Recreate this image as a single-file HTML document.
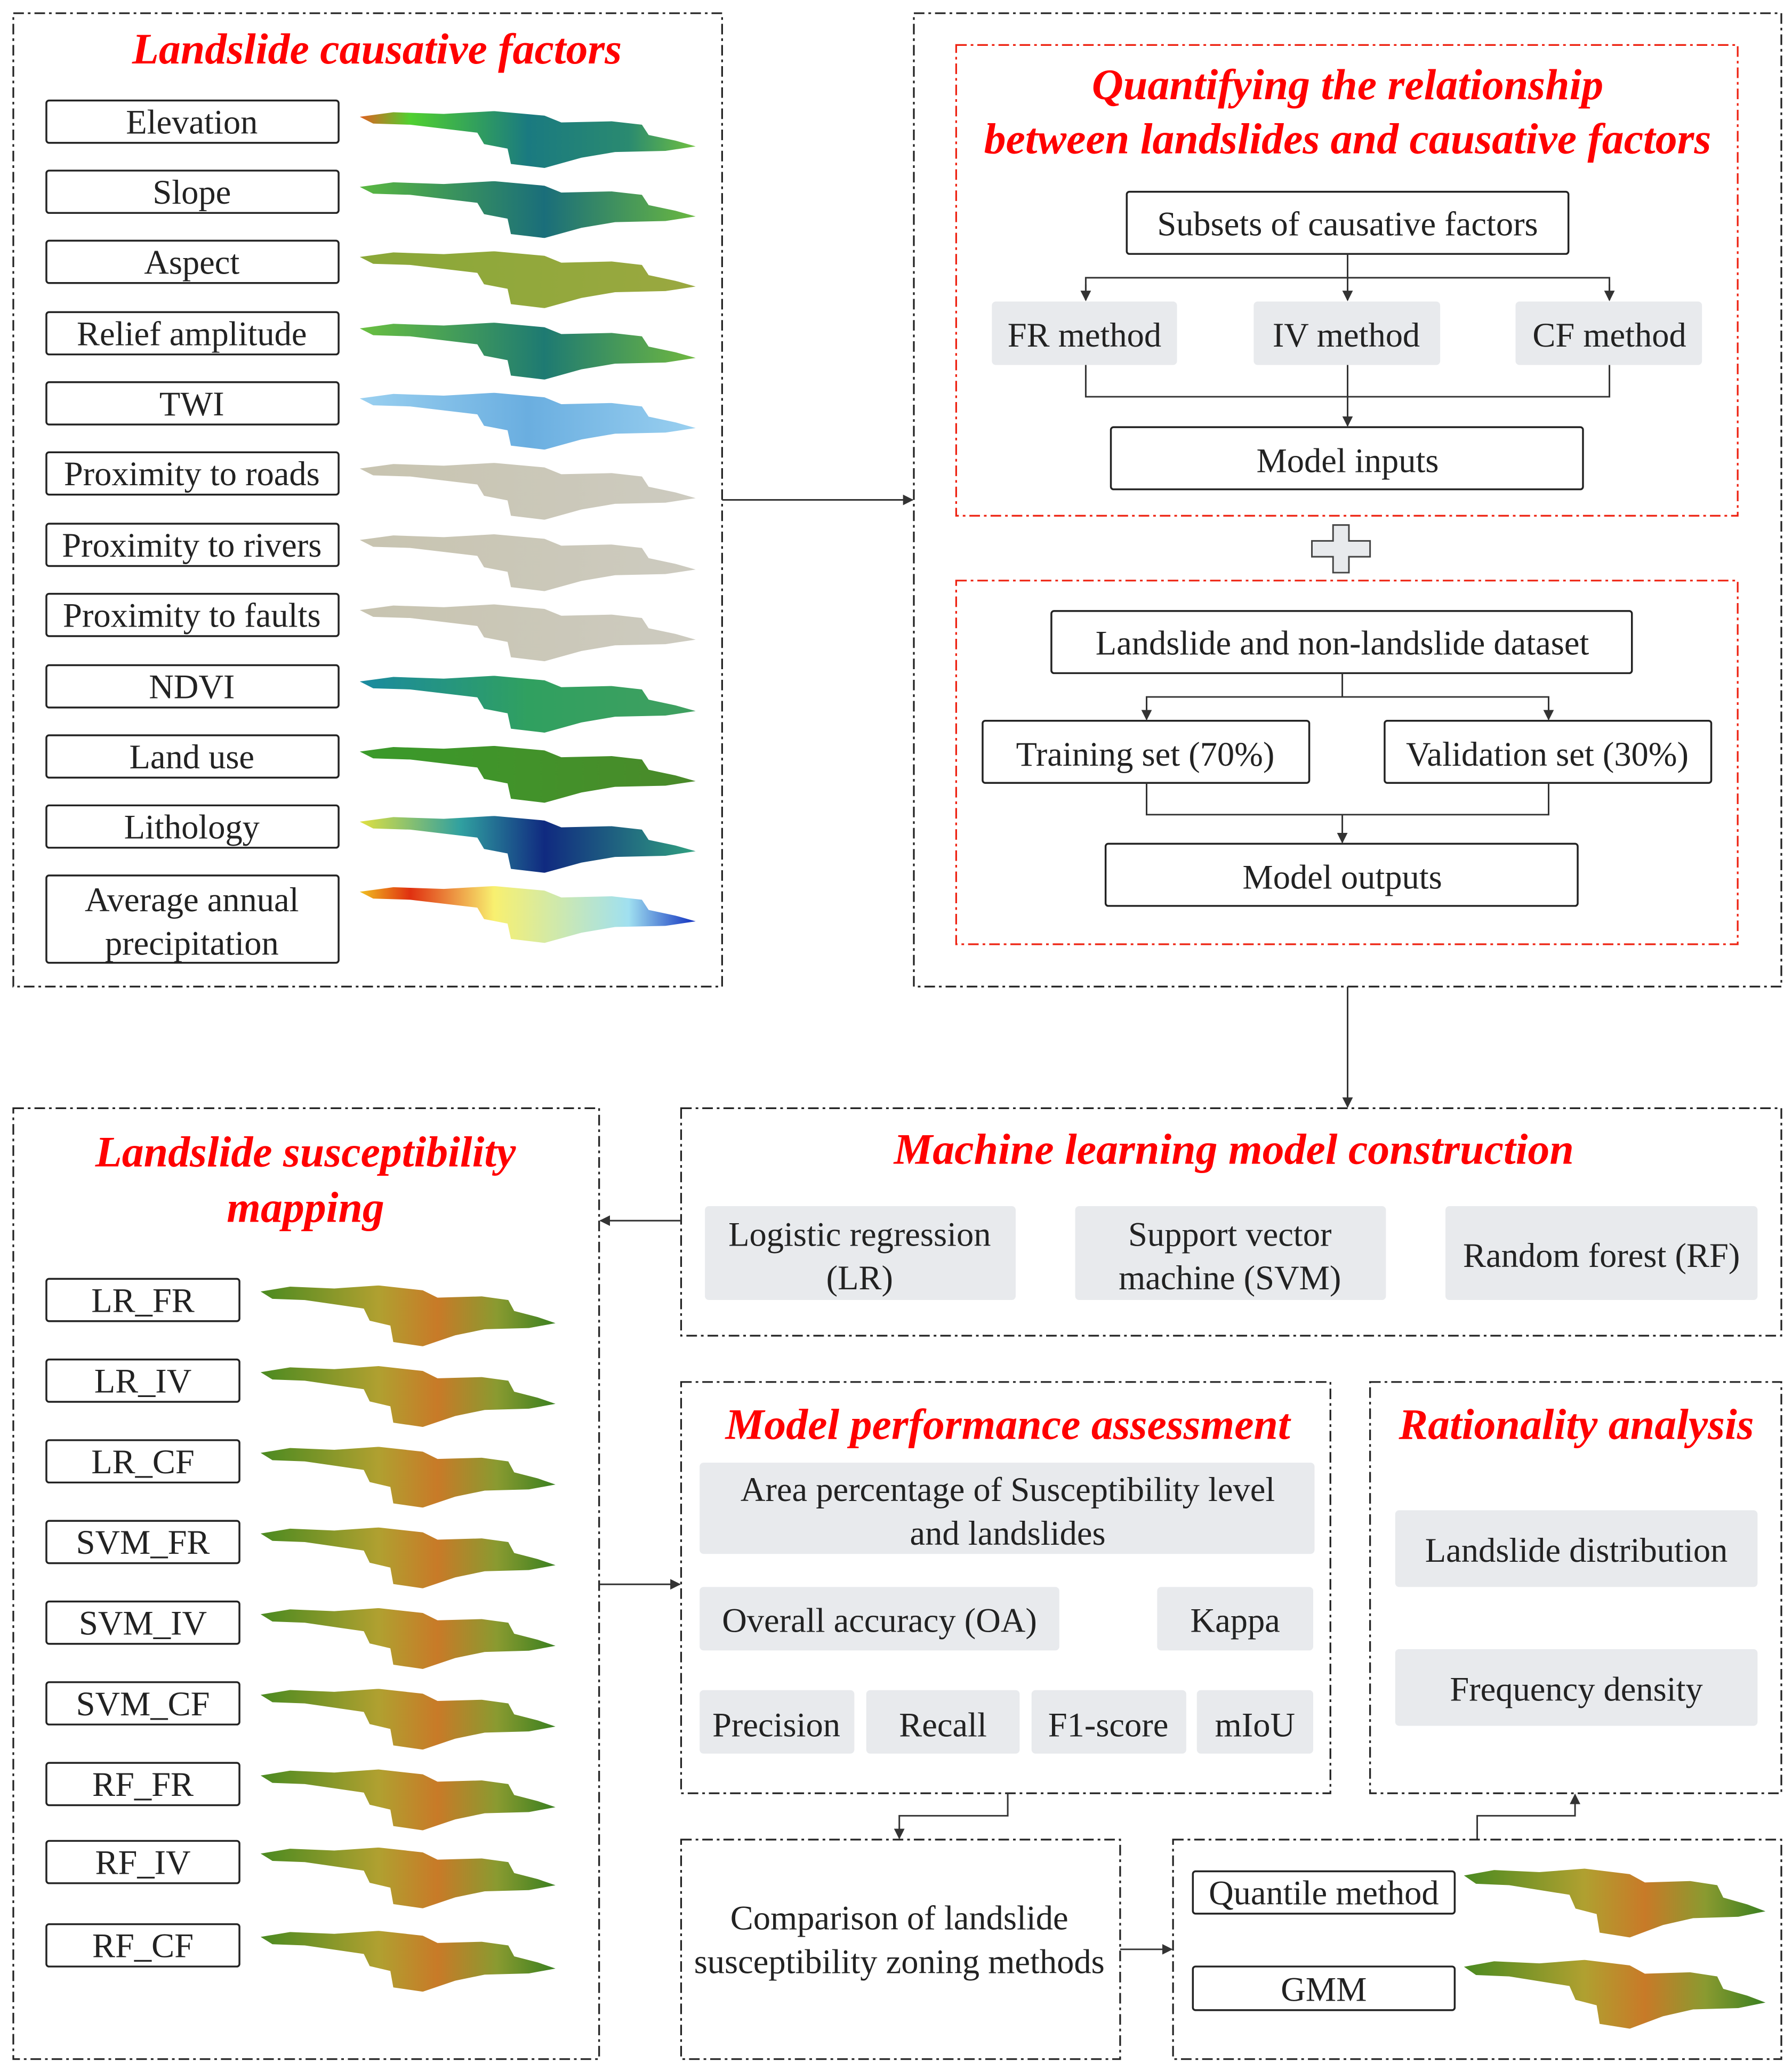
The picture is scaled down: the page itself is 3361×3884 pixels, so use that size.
<!DOCTYPE html>
<html><head><meta charset="utf-8">
<style>
html,body{margin:0;padding:0;background:#fff;}
svg{display:block;}
text{font-family:"Liberation Serif",serif;fill:#222;}
.t{font-size:26px;text-anchor:middle;}
.h{font-size:33px;font-weight:bold;font-style:italic;fill:#f00;text-anchor:middle;}
.fr{fill:none;stroke:#222;stroke-width:1.3;stroke-dasharray:8,3,2,3;}
.rf{fill:none;stroke:#e21;stroke-width:1.3;stroke-dasharray:8,3,2,3;}
.bx{fill:#fff;stroke:#222;stroke-width:1.4;}
.gb{fill:#e8eaed;}
.ln{fill:none;stroke:#333;stroke-width:1.2;}
</style></head>
<body>
<svg width="3361" height="3884" viewBox="0 0 1355 1566" xmlns="http://www.w3.org/2000/svg">
<defs>
<marker id="a" viewBox="0 0 10 10" refX="9" refY="5" markerWidth="8" markerHeight="8" orient="auto" markerUnits="userSpaceOnUse"><path d="M0,0L10,5L0,10z" fill="#333"/></marker>
<symbol id="m" viewBox="0 0 100 100" preserveAspectRatio="none"><path d="M0,10 L10,2 L25,5 L40,0 L55,8 L60,20 L75,18 L84,24 L86,42 L94,52 L100,62 L91,70 L76,72 L66,82 L55,100 L45,93 L44,66 L37,58 L35,38 L15,24 L4,22 Z"/></symbol>
<linearGradient id="g1"><stop offset="0" stop-color="#e06020"/><stop offset=".15" stop-color="#50d030"/><stop offset=".5" stop-color="#1a7a80"/><stop offset=".8" stop-color="#2a8a70"/><stop offset="1" stop-color="#70c040"/></linearGradient>
<linearGradient id="g2"><stop offset="0" stop-color="#5ab840"/><stop offset=".55" stop-color="#1a6e7a"/><stop offset="1" stop-color="#6ab840"/></linearGradient>
<linearGradient id="g3"><stop offset="0" stop-color="#8aa838"/><stop offset="1" stop-color="#9aa840"/></linearGradient>
<linearGradient id="g4"><stop offset="0" stop-color="#6ac040"/><stop offset=".55" stop-color="#1e7a72"/><stop offset="1" stop-color="#70b840"/></linearGradient>
<linearGradient id="g5"><stop offset="0" stop-color="#9ad0f0"/><stop offset=".5" stop-color="#6aaee0"/><stop offset="1" stop-color="#9ad0f0"/></linearGradient>
<linearGradient id="g6"><stop offset="0" stop-color="#c8c4b0"/><stop offset="1" stop-color="#cdcbc0"/></linearGradient>
<linearGradient id="g7"><stop offset="0" stop-color="#1a8aa0"/><stop offset=".5" stop-color="#30a060"/><stop offset="1" stop-color="#40a060"/></linearGradient>
<linearGradient id="g8"><stop offset="0" stop-color="#3a9a2a"/><stop offset="1" stop-color="#4a8a2a"/></linearGradient>
<linearGradient id="g9"><stop offset="0" stop-color="#e0e040"/><stop offset=".3" stop-color="#30a0a0"/><stop offset=".55" stop-color="#102a80"/><stop offset="1" stop-color="#30a080"/></linearGradient>
<linearGradient id="g10"><stop offset="0" stop-color="#f0c020"/><stop offset=".15" stop-color="#e03010"/><stop offset=".4" stop-color="#f8f070"/><stop offset=".8" stop-color="#a0e0f0"/><stop offset="1" stop-color="#1030c0"/></linearGradient>
<linearGradient id="gs"><stop offset="0" stop-color="#4a8a20"/><stop offset=".4" stop-color="#b0a030"/><stop offset=".6" stop-color="#c87a28"/><stop offset=".8" stop-color="#8a9a30"/><stop offset="1" stop-color="#3a8020"/></linearGradient>
</defs>

<rect class="fr" x="10" y="10" width="536" height="736"/>
<text class="h" x="285" y="48">Landslide causative factors</text>
<g>
<rect class="bx" x="35" y="76" width="221" height="32" rx="2"/><text class="t" x="145" y="101">Elevation</text>
<rect class="bx" x="35" y="129" width="221" height="32" rx="2"/><text class="t" x="145" y="154">Slope</text>
<rect class="bx" x="35" y="182" width="221" height="32" rx="2"/><text class="t" x="145" y="207">Aspect</text>
<rect class="bx" x="35" y="236" width="221" height="32" rx="2"/><text class="t" x="145" y="261">Relief amplitude</text>
<rect class="bx" x="35" y="289" width="221" height="32" rx="2"/><text class="t" x="145" y="314">TWI</text>
<rect class="bx" x="35" y="342" width="221" height="32" rx="2"/><text class="t" x="145" y="367">Proximity to roads</text>
<rect class="bx" x="35" y="396" width="221" height="32" rx="2"/><text class="t" x="145" y="421">Proximity to rivers</text>
<rect class="bx" x="35" y="449" width="221" height="32" rx="2"/><text class="t" x="145" y="474">Proximity to faults</text>
<rect class="bx" x="35" y="503" width="221" height="32" rx="2"/><text class="t" x="145" y="528">NDVI</text>
<rect class="bx" x="35" y="556" width="221" height="32" rx="2"/><text class="t" x="145" y="581">Land use</text>
<rect class="bx" x="35" y="609" width="221" height="32" rx="2"/><text class="t" x="145" y="634">Lithology</text>
<rect class="bx" x="35" y="662" width="221" height="66" rx="2"/><text class="t" x="145" y="689">Average annual</text><text class="t" x="145" y="722">precipitation</text>
</g>
<use href="#m" x="272" y="84" width="254" height="43" fill="url(#g1)"/>
<use href="#m" x="272" y="137" width="254" height="43" fill="url(#g2)"/>
<use href="#m" x="272" y="190" width="254" height="43" fill="url(#g3)"/>
<use href="#m" x="272" y="244" width="254" height="43" fill="url(#g4)"/>
<use href="#m" x="272" y="297" width="254" height="43" fill="url(#g5)"/>
<use href="#m" x="272" y="350" width="254" height="43" fill="url(#g6)"/>
<use href="#m" x="272" y="404" width="254" height="43" fill="url(#g6)"/>
<use href="#m" x="272" y="457" width="254" height="43" fill="url(#g6)"/>
<use href="#m" x="272" y="511" width="254" height="43" fill="url(#g7)"/>
<use href="#m" x="272" y="564" width="254" height="43" fill="url(#g8)"/>
<use href="#m" x="272" y="617" width="254" height="43" fill="url(#g9)"/>
<use href="#m" x="272" y="670" width="254" height="43" fill="url(#g10)"/>

<line class="ln" x1="546" y1="378" x2="690" y2="378" marker-end="url(#a)"/>

<rect class="fr" x="691" y="10" width="656" height="736"/>
<rect class="rf" x="723" y="34" width="591" height="356"/>
<text class="h" x="1019" y="75">Quantifying the relationship</text>
<text class="h" x="1019" y="116">between landslides and causative factors</text>
<rect class="bx" x="852" y="145" width="334" height="47" rx="2"/><text class="t" x="1019" y="178">Subsets of causative factors</text>
<path class="ln" d="M1019,192V227"  marker-end="url(#a)"/>
<path class="ln" d="M821,227V210H1217V227" />
<line class="ln" x1="821" y1="215" x2="821" y2="227" marker-end="url(#a)"/>
<line class="ln" x1="1217" y1="215" x2="1217" y2="227" marker-end="url(#a)"/>
<rect class="gb" x="750" y="228" width="140" height="48" rx="3"/><text class="t" x="820" y="262">FR method</text>
<rect class="gb" x="948" y="228" width="141" height="48" rx="3"/><text class="t" x="1018" y="262">IV method</text>
<rect class="gb" x="1146" y="228" width="141" height="48" rx="3"/><text class="t" x="1217" y="262">CF method</text>
<path class="ln" d="M821,276V300H1217V276"/>
<path class="ln" d="M1019,276V322" marker-end="url(#a)"/>
<rect class="bx" x="840" y="323" width="357" height="47" rx="2"/><text class="t" x="1019" y="357">Model inputs</text>
<path d="M1008,397h12v12h16v12h-16v12h-12v-12h-16v-12h16z" fill="#e8eaed" stroke="#444" stroke-width="1.2"/>
<rect class="rf" x="723" y="439" width="591" height="275"/>
<rect class="bx" x="795" y="462" width="439" height="47" rx="2"/><text class="t" x="1015" y="495">Landslide and non-landslide dataset</text>
<path class="ln" d="M1015,509V527H867V544" marker-end="url(#a)"/>
<path class="ln" d="M1015,527H1171V544" marker-end="url(#a)"/>
<rect class="bx" x="743" y="545" width="247" height="47" rx="2"/><text class="t" x="866" y="579">Training set (70%)</text>
<rect class="bx" x="1047" y="545" width="247" height="47" rx="2"/><text class="t" x="1170" y="579">Validation set (30%)</text>
<path class="ln" d="M867,592V616H1171V592"/>
<path class="ln" d="M1015,616V637" marker-end="url(#a)"/>
<rect class="bx" x="836" y="638" width="357" height="47" rx="2"/><text class="t" x="1015" y="672">Model outputs</text>

<line class="ln" x1="1019" y1="746" x2="1019" y2="837" marker-end="url(#a)"/>

<rect class="fr" x="515" y="838" width="832" height="172"/>
<text class="h" x="933" y="880">Machine learning model construction</text>
<rect class="gb" x="533" y="912" width="235" height="71" rx="3"/><text class="t" x="650" y="942">Logistic regression</text><text class="t" x="650" y="975">(LR)</text>
<rect class="gb" x="813" y="912" width="235" height="71" rx="3"/><text class="t" x="930" y="942">Support vector</text><text class="t" x="930" y="975">machine (SVM)</text>
<rect class="gb" x="1093" y="912" width="236" height="71" rx="3"/><text class="t" x="1211" y="958">Random forest (RF)</text>
<line class="ln" x1="515" y1="923" x2="454" y2="923" marker-end="url(#a)"/>

<rect class="fr" x="10" y="838" width="443" height="719"/>
<text class="h" x="231" y="882">Landslide susceptibility</text>
<text class="h" x="231" y="924">mapping</text>
<g>
<rect class="bx" x="35" y="967" width="146" height="32" rx="2"/><text class="t" x="108" y="992">LR_FR</text>
<rect class="bx" x="35" y="1028" width="146" height="32" rx="2"/><text class="t" x="108" y="1053">LR_IV</text>
<rect class="bx" x="35" y="1089" width="146" height="32" rx="2"/><text class="t" x="108" y="1114">LR_CF</text>
<rect class="bx" x="35" y="1150" width="146" height="32" rx="2"/><text class="t" x="108" y="1175">SVM_FR</text>
<rect class="bx" x="35" y="1211" width="146" height="32" rx="2"/><text class="t" x="108" y="1236">SVM_IV</text>
<rect class="bx" x="35" y="1272" width="146" height="32" rx="2"/><text class="t" x="108" y="1297">SVM_CF</text>
<rect class="bx" x="35" y="1333" width="146" height="32" rx="2"/><text class="t" x="108" y="1358">RF_FR</text>
<rect class="bx" x="35" y="1392" width="146" height="32" rx="2"/><text class="t" x="108" y="1417">RF_IV</text>
<rect class="bx" x="35" y="1455" width="146" height="32" rx="2"/><text class="t" x="108" y="1480">RF_CF</text>
</g>
<use href="#m" x="197" y="972" width="223" height="46" fill="url(#gs)"/>
<use href="#m" x="197" y="1033" width="223" height="46" fill="url(#gs)"/>
<use href="#m" x="197" y="1094" width="223" height="46" fill="url(#gs)"/>
<use href="#m" x="197" y="1155" width="223" height="46" fill="url(#gs)"/>
<use href="#m" x="197" y="1216" width="223" height="46" fill="url(#gs)"/>
<use href="#m" x="197" y="1277" width="223" height="46" fill="url(#gs)"/>
<use href="#m" x="197" y="1338" width="223" height="46" fill="url(#gs)"/>
<use href="#m" x="197" y="1397" width="223" height="46" fill="url(#gs)"/>
<use href="#m" x="197" y="1460" width="223" height="46" fill="url(#gs)"/>
<line class="ln" x1="453" y1="1198" x2="514" y2="1198" marker-end="url(#a)"/>

<rect class="fr" x="515" y="1045" width="491" height="311"/>
<text class="h" x="762" y="1088">Model performance assessment</text>
<rect class="gb" x="529" y="1106" width="465" height="69" rx="3"/><text class="t" x="762" y="1135">Area percentage of Susceptibility level</text><text class="t" x="762" y="1168">and landslides</text>
<rect class="gb" x="529" y="1200" width="272" height="48" rx="3"/><text class="t" x="665" y="1234">Overall accuracy (OA)</text>
<rect class="gb" x="875" y="1200" width="118" height="48" rx="3"/><text class="t" x="934" y="1234">Kappa</text>
<rect class="gb" x="529" y="1278" width="117" height="48" rx="3"/><text class="t" x="587" y="1313">Precision</text>
<rect class="gb" x="655" y="1278" width="116" height="48" rx="3"/><text class="t" x="713" y="1313">Recall</text>
<rect class="gb" x="780" y="1278" width="117" height="48" rx="3"/><text class="t" x="838" y="1313">F1-score</text>
<rect class="gb" x="905" y="1278" width="88" height="48" rx="3"/><text class="t" x="949" y="1313">mIoU</text>

<rect class="fr" x="1036" y="1045" width="311" height="311"/>
<text class="h" x="1192" y="1088">Rationality analysis</text>
<rect class="gb" x="1055" y="1142" width="274" height="58" rx="3"/><text class="t" x="1192" y="1181">Landslide distribution</text>
<rect class="gb" x="1055" y="1247" width="274" height="58" rx="3"/><text class="t" x="1192" y="1286">Frequency density</text>

<path class="ln" d="M762,1356V1373H680V1390" marker-end="url(#a)"/>
<path class="ln" d="M1117,1391V1373H1191V1357" marker-end="url(#a)"/>

<rect class="fr" x="515" y="1391" width="332" height="166"/>
<text class="t" x="680" y="1459">Comparison of landslide</text>
<text class="t" x="680" y="1492">susceptibility zoning methods</text>
<line class="ln" x1="847" y1="1474" x2="886" y2="1474" marker-end="url(#a)"/>

<rect class="fr" x="887" y="1391" width="460" height="166"/>
<rect class="bx" x="902" y="1415" width="198" height="32" rx="2"/><text class="t" x="1001" y="1440">Quantile method</text>
<rect class="bx" x="902" y="1487" width="198" height="33" rx="2"/><text class="t" x="1001" y="1513">GMM</text>
<use href="#m" x="1107" y="1413" width="228" height="52" fill="url(#gs)"/>
<use href="#m" x="1107" y="1482" width="228" height="52" fill="url(#gs)"/>
</svg>
</body></html>
